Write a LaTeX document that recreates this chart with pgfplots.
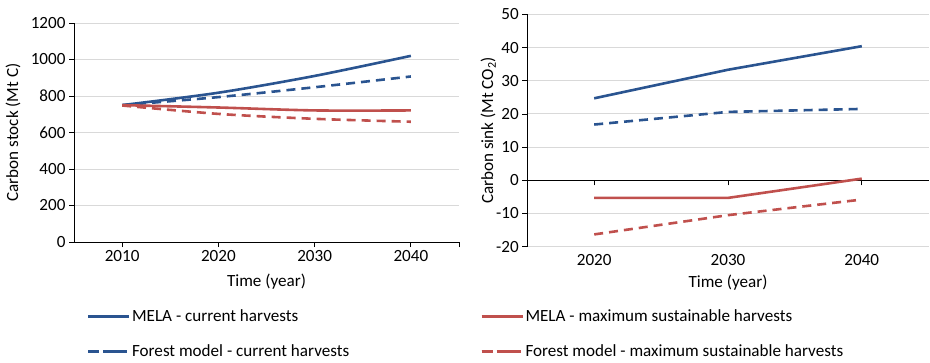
\documentclass[border=0pt]{standalone}
\usepackage{fontspec}
\setmainfont{Carlito}
\usepackage{pgfplots}
\pgfplotsset{compat=1.18}
\definecolor{cblue}{HTML}{2A5490}
\definecolor{cred}{HTML}{C0504D}
\definecolor{cgrid}{HTML}{D9D9D9}
\newcommand{\chfont}{\fontsize{17.1}{20.5}\selectfont}
\pgfplotsset{
  every axis/.append style={
    scale only axis,
    /pgf/number format/assume math mode=true,
    /pgf/number format/1000 sep={},
    tick label style={font=\chfont},
    label style={font=\chfont},
    legend style={font=\chfont},
    tick align=outside,
    major tick length=5pt,
    tick style={black, line width=0.8pt},
    axis line style={black, line width=0.8pt},
    ymajorgrids,
    grid style={cgrid, line width=1pt},
    legend cell align=left,
  },
  solimg/.style={legend image code/.code={\draw[##1] (0pt,0pt) -- (41pt,0pt);}},
  dshimg/.style={legend image code/.code={\draw[##1, solid] (0pt,0pt) -- (11pt,0pt) (22pt,0pt) -- (33pt,0pt); \path (0pt,0pt) -- (41pt,0pt);}},
}
\begin{document}
\begin{tikzpicture}
\path[use as bounding box] (0,0) rectangle (930pt,-362pt);
% left axis
\begin{axis}[
  at={(74pt,-242pt)}, anchor=south west,
  width=385pt, height=219pt,
  xmin=2005, xmax=2045, ymin=0, ymax=1200,
  axis x line*=bottom, axis y line*=left,
  xtick={2010,2020,2030,2040,2045},
  xticklabels={2010,2020,2030,2040,},
  ytick={0,200,...,1200},
  xlabel={Time (year)}, ylabel={Carbon stock (Mt C)},
  xlabel style={at={(axis description cs:0.5,-0.181)}, anchor=center},
  ylabel style={at={(axis description cs:-0.158,0.5)}, anchor=center},
  legend style={at={(axis description cs:0,0)}, anchor=north west,
    xshift=12.8pt, yshift=-66pt, draw=none, fill=none, inner sep=0pt,
    nodes={inner sep=1.5pt}, row sep=19pt},
]
\addplot[cblue, line width=2.6pt, smooth, solimg] coordinates {(2010,750) (2020,818) (2030,910) (2040,1020)};
\addlegendentry{MELA - current harvests}
\addplot[cblue, line width=2.6pt, dash pattern=on 9pt off 6pt, smooth, dshimg] coordinates {(2010,750) (2020,794) (2030,848) (2040,907)};
\addlegendentry{Forest model - current harvests}
\addplot[cred, line width=2.6pt, smooth, forget plot] coordinates {(2010,750) (2020,737) (2030,721) (2040,721)};
\addplot[cred, line width=2.6pt, dash pattern=on 9pt off 6pt, smooth, forget plot] coordinates {(2010,748) (2020,702) (2030,675) (2040,659)};
\end{axis}
% right axis
\begin{axis}[
  at={(527.3pt,-246.7pt)}, anchor=south west,
  width=401.4pt, height=232.4pt,
  xmin=2015, xmax=2045, ymin=-20, ymax=50,
  axis x line*=middle, axis y line*=left,
  xtick={2020,2030,2040},
  ytick={-20,-10,...,50},
  xticklabel style={yshift=-66pt},
  xlabel={Time (year)}, ylabel={Carbon sink (Mt CO\textsubscript{2})},
  xlabel style={at={(axis description cs:0.5,-0.155)}, anchor=center},
  ylabel style={at={(axis description cs:-0.0972,0.5)}, anchor=center},
  legend style={at={(axis description cs:0,0)}, anchor=north west,
    xshift=-47.1pt, yshift=-61.3pt, draw=none, fill=none, inner sep=0pt,
    nodes={inner sep=1.5pt}, row sep=19pt},
]
\addplot[cblue, line width=2.6pt, forget plot] coordinates {(2020,24.7) (2030,33.3) (2040,40.4)};
\addplot[cblue, line width=2.6pt, dash pattern=on 9pt off 6pt, forget plot] coordinates {(2020,16.8) (2030,20.6) (2040,21.5)};
\addplot[cred, line width=2.6pt, solimg] coordinates {(2020,-5.3) (2030,-5.3) (2040,0.5)};
\addlegendentry{MELA - maximum sustainable harvests}
\addplot[cred, line width=2.6pt, dash pattern=on 9pt off 6pt, dshimg] coordinates {(2020,-16.3) (2030,-10.5) (2040,-5.8)};
\addlegendentry{Forest model - maximum sustainable harvests}
\end{axis}
\end{tikzpicture}
\end{document}
